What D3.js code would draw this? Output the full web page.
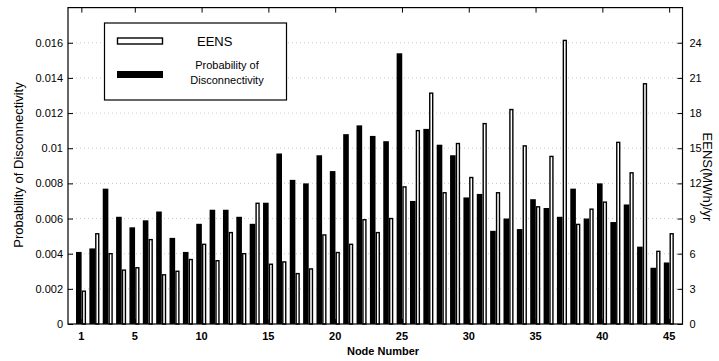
<!DOCTYPE html>
<html>
<head>
<meta charset="utf-8">
<script src="https://cdn.jsdelivr.net/npm/d3@7"></script>
<style>
  html, body { margin: 0; padding: 0; background: #fff; }
  #chart { width: 719px; height: 361px; }
  text { font-family: "Liberation Sans", Arial, sans-serif; fill: #000; }
</style>
</head>
<body>
<div id="chart"></div>
<script>
"use strict";

const nodes = d3.range(1, 46);

const probability = [
  0.0041, 0.0043, 0.0077, 0.0061, 0.0055, 0.0059, 0.0064, 0.0049, 0.0041, 0.0057,
  0.0065, 0.0065, 0.0061, 0.0057, 0.0069, 0.0097, 0.0082, 0.008, 0.0096, 0.0087,
  0.0108, 0.0113, 0.0107, 0.0104, 0.0154, 0.007, 0.0111, 0.0102, 0.0096, 0.0072,
  0.0074, 0.0053, 0.006, 0.0054, 0.0071, 0.0066, 0.0061, 0.0077, 0.006, 0.008,
  0.0058, 0.0068, 0.0044, 0.0032, 0.0035,
];

const eens = [
  2.8, 7.7, 6.0, 4.6, 4.8, 7.2, 4.2, 4.5, 5.5, 6.8,
  5.4, 7.8, 6.0, 10.3, 5.1, 5.3, 4.3, 4.7, 7.6, 6.1,
  6.8, 8.9, 7.8, 9.0, 11.7, 16.5, 19.7, 11.2, 15.4, 12.5,
  17.1, 11.2, 18.3, 15.2, 10.0, 14.3, 24.2, 8.5, 9.8, 10.4,
  15.5, 12.9, 20.5, 6.2, 7.7,
];

const xTicks = [1, 5, 10, 15, 20, 25, 30, 35, 40, 45];
const leftTicks = [0, 0.002, 0.004, 0.006, 0.008, 0.01, 0.012, 0.014, 0.016];
const leftTickLabels = ["0", "0.002", "0.004", "0.006", "0.008", "0.01", "0.012", "0.014", "0.016"];
const rightTicks = [0, 3, 6, 9, 12, 15, 18, 21, 24];

draw();

function draw() {
  const w = 719;
  const h = 361;
  const left = 68;
  const right = 682.5;
  const top = 7.6;
  const bottom = 324;

  const xScale = d3.scaleLinear().domain([0, 46]).range([left, right]);
  const yLeft = d3.scaleLinear().domain([0, 0.018]).range([bottom, top]);
  const yRight = d3.scaleLinear().domain([0, 27]).range([bottom, top]);
  const unit = xScale(1) - xScale(0);

  const svg = d3
    .select("#chart")
    .append("svg")
    .attr("width", w)
    .attr("height", h);

  // faint dotted grid at left ticks
  svg
    .append("g")
    .selectAll("line")
    .data(leftTicks.slice(1))
    .enter()
    .append("line")
    .attr("x1", left)
    .attr("x2", right)
    .attr("y1", (v) => yLeft(v))
    .attr("y2", (v) => yLeft(v))
    .attr("stroke", "#bbb")
    .attr("stroke-width", 0.8)
    .attr("stroke-dasharray", "1,3");

  // probability bars (black)
  svg
    .append("g")
    .selectAll("rect")
    .data(nodes)
    .enter()
    .append("rect")
    .attr("x", (n) => xScale(n) - 0.4 * unit)
    .attr("width", 0.42 * unit)
    .attr("y", (n, i) => yLeft(probability[i]))
    .attr("height", (n, i) => bottom - yLeft(probability[i]))
    .attr("fill", "#000");

  // EENS bars (white with outline)
  svg
    .append("g")
    .selectAll("rect")
    .data(nodes)
    .enter()
    .append("rect")
    .attr("x", (n) => xScale(n) + 0.08 * unit)
    .attr("width", 0.22 * unit)
    .attr("y", (n, i) => yRight(eens[i]))
    .attr("height", (n, i) => bottom - yRight(eens[i]))
    .attr("fill", "#fff")
    .attr("stroke", "#000")
    .attr("stroke-width", 1.4);

  // frame
  svg
    .append("rect")
    .attr("x", left)
    .attr("y", top)
    .attr("width", right - left)
    .attr("height", bottom - top)
    .attr("fill", "none")
    .attr("stroke", "#000")
    .attr("stroke-width", 1.2);

  // x-axis (ticks inward, bottom and top)
  svg
    .append("g")
    .attr("transform", `translate(0, ${bottom})`)
    .call(d3.axisTop(xScale).tickValues(xTicks).tickSize(5).tickFormat(""))
    .call((g) => g.select(".domain").remove());
  svg
    .append("g")
    .attr("transform", `translate(0, ${top})`)
    .call(d3.axisBottom(xScale).tickValues(xTicks).tickSize(5).tickFormat(""))
    .call((g) => g.select(".domain").remove());

  svg
    .append("g")
    .selectAll("text")
    .data(xTicks)
    .enter()
    .append("text")
    .attr("x", (v) => xScale(v))
    .attr("y", bottom + 16)
    .attr("text-anchor", "middle")
    .style("font-size", "11px")
    .style("font-weight", "bold")
    .text((v) => v);

  svg
    .append("text")
    .attr("x", 383)
    .attr("y", 355)
    .attr("text-anchor", "middle")
    .style("font-size", "11px")
    .style("font-weight", "bold")
    .text("Node Number");

  // left axis
  svg
    .append("g")
    .attr("transform", `translate(${left}, 0)`)
    .call(d3.axisRight(yLeft).tickValues(leftTicks).tickSize(5).tickFormat(""))
    .call((g) => g.select(".domain").remove());

  svg
    .append("g")
    .selectAll("text")
    .data(leftTicks)
    .enter()
    .append("text")
    .attr("x", left - 5)
    .attr("y", (v) => yLeft(v) + 4)
    .attr("text-anchor", "end")
    .style("font-size", "11px")
    .text((v, i) => leftTickLabels[i]);

  svg
    .append("text")
    .attr("transform", `translate(23, 165) rotate(-90)`)
    .attr("text-anchor", "middle")
    .style("font-size", "13px")
    .text("Probability of Disconnectivity");

  // right axis
  svg
    .append("g")
    .attr("transform", `translate(${right}, 0)`)
    .call(d3.axisLeft(yRight).tickValues(rightTicks).tickSize(5).tickFormat(""))
    .call((g) => g.select(".domain").remove());

  svg
    .append("g")
    .selectAll("text")
    .data(rightTicks)
    .enter()
    .append("text")
    .attr("x", right + 7)
    .attr("y", (v) => yRight(v) + 4)
    .attr("text-anchor", "start")
    .style("font-size", "11px")
    .text((v) => v);

  svg
    .append("text")
    .attr("transform", `translate(703, 177) rotate(90)`)
    .attr("text-anchor", "middle")
    .style("font-size", "13px")
    .text("EENS(MWh)/yr");

  // legend
  const legend = svg.append("g").attr("id", "legend");
  legend
    .append("rect")
    .attr("x", 104.5)
    .attr("y", 23)
    .attr("width", 182)
    .attr("height", 77)
    .attr("fill", "#fff")
    .attr("stroke", "#000")
    .attr("stroke-width", 1.2);
  legend
    .append("rect")
    .attr("x", 117.5)
    .attr("y", 38)
    .attr("width", 45)
    .attr("height", 6)
    .attr("fill", "#fff")
    .attr("stroke", "#000")
    .attr("stroke-width", 1.4);
  legend
    .append("rect")
    .attr("x", 117)
    .attr("y", 71)
    .attr("width", 46)
    .attr("height", 7)
    .attr("fill", "#000");
  legend
    .append("text")
    .attr("x", 197)
    .attr("y", 46)
    .style("font-size", "13px")
    .text("EENS");
  legend
    .append("text")
    .attr("x", 227)
    .attr("y", 69)
    .attr("text-anchor", "middle")
    .style("font-size", "11px")
    .text("Probability of");
  legend
    .append("text")
    .attr("x", 227)
    .attr("y", 84)
    .attr("text-anchor", "middle")
    .style("font-size", "11px")
    .text("Disconnectivity");
}
</script>
</body>
</html>
